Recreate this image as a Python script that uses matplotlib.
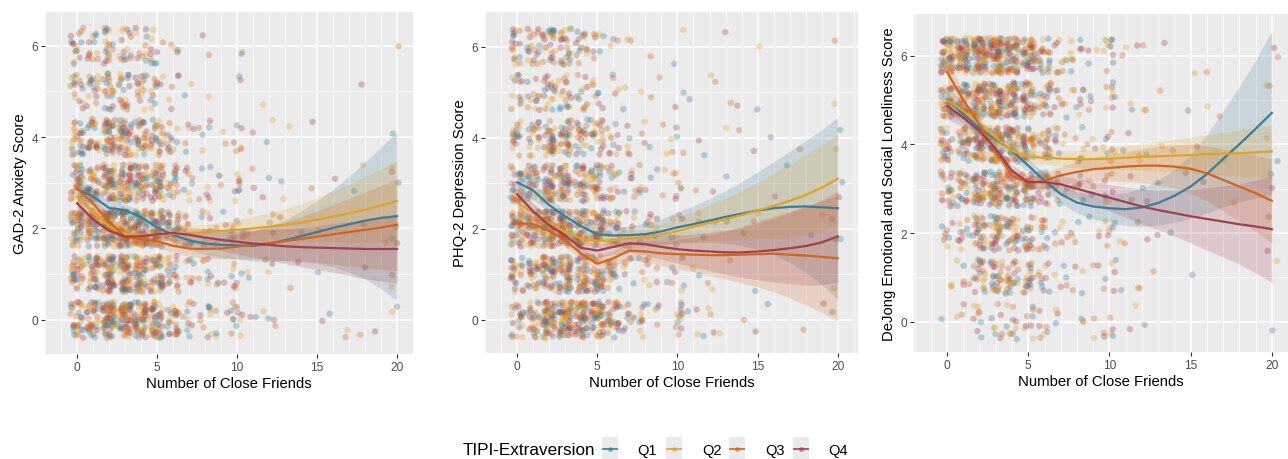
import numpy as np
import matplotlib
matplotlib.use("Agg")
import matplotlib.pyplot as plt
from matplotlib.patches import Rectangle
from matplotlib.lines import Line2D

plt.rcParams['font.family'] = ['Liberation Sans', 'DejaVu Sans']

# ---------------- data ----------------
friends = list(range(21))          # number of close friends (0..20)
scores = list(range(7))            # score levels 0..6
groups = ['Q1', 'Q2', 'Q3', 'Q4']
group_colors = ['#3C7C97', '#DFA22A', '#D1651E', '#A13F4F']
legend_title = 'TIPI-Extraversion'
x_label = 'Number of Close Friends'
y_labels = ['GAD-2 Anxiety Score', 'PHQ-2 Depression Score',
            'DeJong Emotional and Social Loneliness Score']

# number of respondents per (score row, friends column), read approximately
gad_counts = [
    [30, 35, 60, 60, 50, 45, 25, 10, 10, 4, 12, 2, 4, 0, 0, 1, 1, 2, 1, 1, 2],
    [30, 35, 55, 55, 45, 40, 20, 8, 8, 3, 8, 2, 3, 1, 1, 1, 0, 0, 1, 0, 2],
    [40, 40, 65, 65, 55, 50, 25, 10, 8, 4, 10, 2, 3, 1, 1, 1, 0, 0, 1, 1, 3],
    [30, 30, 50, 50, 40, 40, 18, 8, 7, 3, 8, 2, 2, 2, 0, 1, 1, 1, 1, 0, 3],
    [25, 25, 40, 40, 30, 25, 12, 5, 5, 2, 6, 1, 2, 1, 0, 1, 0, 0, 0, 0, 1],
    [15, 15, 20, 20, 15, 12, 5, 2, 1, 0, 2, 0, 1, 0, 0, 0, 0, 0, 1, 0, 0],
    [15, 12, 18, 15, 10, 10, 4, 0, 2, 0, 2, 0, 0, 0, 0, 0, 0, 0, 0, 0, 1],
]
phq_counts = [
    [20, 25, 55, 60, 55, 50, 30, 10, 10, 4, 12, 3, 4, 1, 1, 1, 1, 0, 1, 1, 1],
    [25, 25, 45, 45, 40, 35, 18, 7, 7, 3, 6, 2, 2, 1, 0, 1, 0, 0, 0, 0, 1],
    [35, 35, 55, 55, 45, 45, 22, 8, 7, 3, 6, 2, 2, 1, 1, 2, 0, 0, 1, 1, 3],
    [25, 25, 40, 40, 30, 30, 15, 7, 6, 3, 7, 1, 1, 1, 0, 0, 1, 1, 0, 0, 2],
    [18, 18, 30, 30, 22, 20, 10, 5, 4, 2, 5, 1, 1, 1, 1, 1, 1, 0, 1, 0, 2],
    [12, 12, 18, 16, 12, 8, 4, 2, 2, 1, 2, 1, 2, 1, 1, 1, 0, 0, 0, 0, 1],
    [18, 20, 25, 22, 15, 8, 3, 2, 1, 0, 2, 0, 0, 1, 0, 1, 0, 0, 0, 0, 1],
]
dejong_counts = [
    [1, 3, 8, 8, 10, 8, 6, 3, 3, 2, 6, 1, 2, 0, 0, 0, 0, 0, 0, 0, 1],
    [2, 5, 20, 25, 22, 18, 10, 5, 4, 2, 6, 1, 2, 1, 0, 1, 0, 0, 0, 0, 1],
    [8, 10, 28, 32, 28, 22, 12, 6, 4, 3, 7, 2, 2, 1, 1, 0, 0, 0, 0, 0, 2],
    [20, 22, 40, 45, 38, 32, 18, 8, 6, 3, 8, 2, 2, 1, 0, 1, 1, 0, 1, 0, 2],
    [25, 28, 45, 48, 40, 35, 20, 8, 7, 3, 8, 2, 3, 1, 1, 1, 0, 1, 0, 0, 2],
    [30, 35, 55, 55, 45, 38, 20, 8, 8, 3, 8, 2, 2, 1, 0, 1, 1, 1, 0, 0, 2],
    [50, 55, 70, 70, 55, 45, 22, 10, 8, 3, 10, 2, 2, 1, 0, 1, 1, 0, 0, 0, 2],
]

# loess fits (mean) and half-width of the confidence band at friends = 0..20
gad_fit = {
    'Q1': [2.86, 2.70, 2.45, 2.40, 2.25, 2.02, 1.86, 1.74, 1.67, 1.64, 1.63, 1.62, 1.66, 1.74, 1.83, 1.92, 2.01, 2.09, 2.17, 2.23, 2.27],
    'Q2': [2.70, 2.35, 2.05, 1.88, 1.85, 1.86, 1.88, 1.90, 1.91, 1.94, 1.97, 2.00, 2.04, 2.08, 2.13, 2.19, 2.26, 2.33, 2.41, 2.50, 2.60],
    'Q3': [2.88, 2.55, 2.15, 1.82, 1.76, 1.72, 1.62, 1.56, 1.55, 1.56, 1.60, 1.64, 1.68, 1.72, 1.77, 1.82, 1.87, 1.92, 1.97, 2.02, 2.08],
    'Q4': [2.55, 2.20, 1.95, 1.82, 1.83, 1.87, 1.90, 1.86, 1.80, 1.75, 1.71, 1.67, 1.64, 1.61, 1.59, 1.58, 1.57, 1.56, 1.55, 1.55, 1.55],
}
gad_ci = {
    'Q1': [0.30, 0.18, 0.14, 0.13, 0.13, 0.14, 0.16, 0.20, 0.24, 0.28, 0.30, 0.33, 0.38, 0.45, 0.55, 0.68, 0.85, 1.05, 1.28, 1.55, 1.85],
    'Q2': [0.25, 0.17, 0.13, 0.12, 0.12, 0.13, 0.14, 0.15, 0.17, 0.19, 0.22, 0.26, 0.30, 0.35, 0.41, 0.48, 0.56, 0.64, 0.72, 0.80, 0.90],
    'Q3': [0.28, 0.18, 0.14, 0.13, 0.13, 0.14, 0.15, 0.17, 0.20, 0.23, 0.27, 0.31, 0.36, 0.42, 0.49, 0.57, 0.65, 0.74, 0.83, 0.92, 1.00],
    'Q4': [0.28, 0.18, 0.14, 0.13, 0.13, 0.14, 0.15, 0.17, 0.20, 0.23, 0.27, 0.30, 0.34, 0.38, 0.43, 0.48, 0.53, 0.59, 0.65, 0.70, 0.75],
}
phq_fit = {
    'Q1': [3.02, 2.84, 2.52, 2.27, 2.05, 1.88, 1.85, 1.86, 1.88, 1.94, 2.03, 2.10, 2.18, 2.26, 2.33, 2.40, 2.45, 2.48, 2.49, 2.47, 2.45],
    'Q2': [2.58, 2.35, 2.12, 1.93, 1.78, 1.73, 1.75, 1.78, 1.81, 1.87, 1.95, 2.04, 2.13, 2.21, 2.30, 2.40, 2.50, 2.61, 2.74, 2.90, 3.10],
    'Q3': [2.12, 2.10, 1.95, 1.75, 1.45, 1.23, 1.35, 1.52, 1.50, 1.46, 1.44, 1.43, 1.42, 1.42, 1.43, 1.44, 1.45, 1.43, 1.41, 1.38, 1.35],
    'Q4': [2.76, 2.38, 2.08, 1.85, 1.58, 1.52, 1.60, 1.68, 1.66, 1.60, 1.55, 1.52, 1.50, 1.48, 1.48, 1.50, 1.53, 1.57, 1.62, 1.70, 1.83],
}
phq_ci = {
    'Q1': [0.30, 0.20, 0.15, 0.14, 0.14, 0.15, 0.17, 0.20, 0.24, 0.28, 0.33, 0.40, 0.48, 0.58, 0.70, 0.85, 1.02, 1.22, 1.45, 1.70, 2.00],
    'Q2': [0.28, 0.18, 0.14, 0.13, 0.13, 0.14, 0.16, 0.18, 0.21, 0.24, 0.28, 0.33, 0.39, 0.46, 0.54, 0.62, 0.71, 0.80, 0.88, 0.95, 1.00],
    'Q3': [0.30, 0.20, 0.15, 0.14, 0.14, 0.15, 0.17, 0.20, 0.23, 0.27, 0.32, 0.38, 0.45, 0.53, 0.62, 0.72, 0.83, 0.95, 1.08, 1.22, 1.38],
    'Q4': [0.30, 0.20, 0.15, 0.14, 0.14, 0.15, 0.17, 0.20, 0.23, 0.27, 0.31, 0.36, 0.42, 0.48, 0.55, 0.62, 0.70, 0.78, 0.86, 0.93, 1.00],
}
dejong_fit = {
    'Q1': [5.02, 4.68, 4.36, 4.12, 3.86, 3.52, 3.18, 2.88, 2.69, 2.60, 2.56, 2.54, 2.58, 2.68, 2.84, 3.05, 3.33, 3.67, 4.00, 4.35, 4.71],
    'Q2': [5.00, 4.75, 4.45, 4.15, 3.85, 3.72, 3.70, 3.68, 3.67, 3.67, 3.68, 3.70, 3.72, 3.73, 3.75, 3.76, 3.78, 3.79, 3.80, 3.82, 3.84],
    'Q3': [5.63, 5.00, 4.45, 3.85, 3.30, 3.13, 3.18, 3.30, 3.38, 3.44, 3.47, 3.50, 3.52, 3.52, 3.50, 3.45, 3.35, 3.20, 3.05, 2.90, 2.73],
    'Q4': [4.87, 4.60, 4.30, 3.90, 3.40, 3.15, 3.15, 3.10, 3.00, 2.90, 2.80, 2.70, 2.60, 2.52, 2.45, 2.38, 2.32, 2.26, 2.20, 2.15, 2.09],
}
dejong_ci = {
    'Q1': [0.30, 0.20, 0.15, 0.14, 0.14, 0.15, 0.17, 0.20, 0.24, 0.28, 0.32, 0.37, 0.43, 0.50, 0.60, 0.72, 0.88, 1.08, 1.30, 1.55, 1.85],
    'Q2': [0.28, 0.18, 0.14, 0.13, 0.13, 0.14, 0.15, 0.17, 0.19, 0.21, 0.24, 0.27, 0.30, 0.33, 0.36, 0.40, 0.44, 0.48, 0.52, 0.56, 0.60],
    'Q3': [0.30, 0.20, 0.15, 0.14, 0.14, 0.15, 0.17, 0.20, 0.23, 0.26, 0.30, 0.34, 0.38, 0.43, 0.49, 0.55, 0.62, 0.70, 0.78, 0.86, 0.95],
    'Q4': [0.30, 0.20, 0.15, 0.14, 0.14, 0.15, 0.17, 0.20, 0.23, 0.26, 0.30, 0.34, 0.39, 0.45, 0.52, 0.60, 0.70, 0.80, 0.90, 1.05, 1.20],
}

panels = [
    (gad_counts, gad_fit, gad_ci, y_labels[0]),
    (phq_counts, phq_fit, phq_ci, y_labels[1]),
    (dejong_counts, dejong_fit, dejong_ci, y_labels[2]),
]

# ---------------- layout ----------------
W, H = 1288, 460
fig = plt.figure(figsize=(W / 100, H / 100), dpi=100)
# pixel boxes: left, top, right, bottom
boxes = [(45, 13, 413, 355), (485, 13, 858, 354), (914, 15, 1288, 353)]
xlims = [(-1.40, 20.97), (-1.46, 21.26), (-2.04, 20.9)]
ylims = [(-0.75, 6.74), (-0.73, 6.76), (-0.68, 6.94)]

rng = np.random.default_rng(7)   # only used for the jitter of geom_jitter
jit = 0.4

for pi, (counts, fit, ci, ylab) in enumerate(panels):
    l, t, r, b = boxes[pi]
    ax = fig.add_axes([l / W, 1 - b / H, (r - l) / W, (b - t) / H])
    ax.set_facecolor('#EBEBEB')
    for s in ax.spines.values():
        s.set_visible(False)
    ax.set_xlim(*xlims[pi])
    ax.set_ylim(*ylims[pi])
    ax.set_xticks([0, 5, 10, 15, 20])
    ax.set_xticks([v for v in range(-2, 22) if v % 5 != 0], minor=True)
    ax.set_yticks([0, 2, 4, 6])
    ax.set_yticks([1, 3, 5], minor=True)
    ax.grid(which='major', color='white', lw=1.1)
    ax.grid(which='minor', color='white', lw=0.55)
    ax.set_axisbelow(True)
    ax.tick_params(which='minor', length=0)
    ax.tick_params(which='major', length=3.0, width=0.8, color='#333333',
                   labelsize=8.6, labelcolor='#4D4D4D', pad=2)

    # jittered points
    px, py, pc = [], [], []
    k = 0
    for si, row in enumerate(counts):
        for fi, n in enumerate(row):
            for j in range(n):
                px.append(friends[fi])
                py.append(scores[si])
                pc.append(group_colors[(k + j) % 4])
            k += 1
    px = np.array(px, float) + rng.uniform(-jit, jit, len(px))
    py = np.array(py, float) + rng.uniform(-jit, jit, len(py))
    order = rng.permutation(len(px))
    ax.scatter(px[order], py[order], s=21, c=[pc[i] for i in order],
               alpha=0.32, linewidths=0, zorder=2)

    # smoothers
    for gi, g in enumerate(groups):
        m = np.array(fit[g])
        hw = np.array(ci[g])
        ax.fill_between(friends, m - hw, m + hw, color=group_colors[gi],
                        alpha=0.2, lw=0, zorder=3)
        ax.plot(friends, m, color=group_colors[gi], lw=1.6, zorder=4)

    ax.set_xlabel(x_label, fontsize=10.7, labelpad=2)
    ax.set_ylabel(ylab, fontsize=10.7, labelpad=3)

# ---------------- legend ----------------
ly = 450
fig.text(463 / W, 1 - (ly + 1) / H, legend_title, fontsize=12.3, ha='left', va='center')
key_x = [602, 666, 729, 793]
lab_x = [637, 702, 765, 828]
for gi, g in enumerate(groups):
    kx = key_x[gi]
    fig.add_artist(Rectangle((kx / W, 0.0), 16 / W, 22 / H,
                             transform=fig.transFigure, facecolor='#EBEBEB',
                             edgecolor='none'))
    fig.add_artist(Line2D([(kx + 1) / W, (kx + 15) / W], [1 - ly / H, 1 - ly / H],
                          transform=fig.transFigure, color=group_colors[gi],
                          lw=1.4, alpha=0.85))
    fig.add_artist(Line2D([(kx + 8) / W], [1 - ly / H], transform=fig.transFigure,
                          color=group_colors[gi], marker='o', markersize=2.5,
                          alpha=0.5, lw=0))
    fig.text(lab_x[gi] / W, 1 - (ly + 1) / H, g, fontsize=10.5, ha='left', va='center')

fig.savefig('out.png', dpi=100)
